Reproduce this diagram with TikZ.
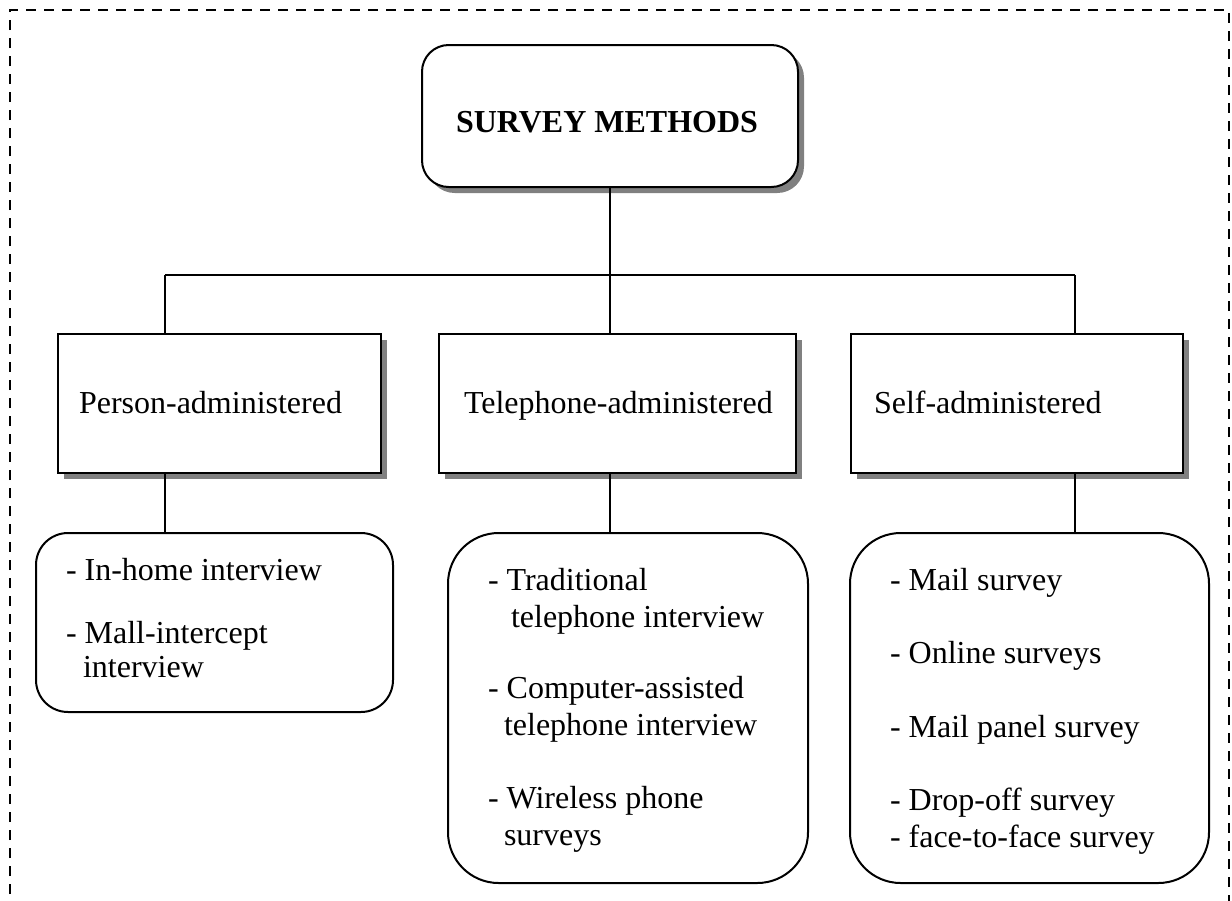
\documentclass[tikz,border=0pt]{standalone}
\usepackage{fontspec}
\setmainfont{Liberation Serif}
\usetikzlibrary{shadows,fit}
\begin{document}
\begin{tikzpicture}[x=0.75pt,y=-0.75pt,
  line width=1.5pt,
  sbox/.style={draw, fill=white, inner sep=0pt, drop shadow={shadow xshift=4.5pt, shadow yshift=-4.5pt, fill=black!50, opacity=1}},
  lbox/.style={draw, fill=white, inner sep=0pt, rounded corners=#1},
  txt/.style={anchor=base west, inner sep=0pt, font=\fontsize{24}{28}\selectfont},
  border/.style={line width=2.2pt, dash pattern=on 7.5pt off 6pt},
  conn/.style={line width=1.6pt}]
\useasboundingbox (0,0) rectangle (1232,900);
\draw[border] (10,930) -- (10,10) -- (1229,10) -- (1229,930);

% top
\node[sbox, rounded corners=20pt, fit={(422,45) (798,187)}] (top) {};
\node[txt, font=\bfseries\fontsize{24}{28}\selectfont] (tt) at (455,132) {SURVEY METHODS};

% second row
\node[sbox, fit={(58,334) (381,473)}] (pa) {};
\node[sbox, fit={(439,334) (796,473)}] (ta) {};
\node[sbox, fit={(851,334) (1183,473)}] (sa) {};
\node[txt] (pat) at (78,413) {Person-administered};
\node[txt] (tat) at (463,413) {Telephone-administered};
\node[txt] (sat) at (873,413) {Self-administered};

% bottom row
\node[lbox=24pt, fit={(36,533) (393,712)}] (pl) {};
\node[lbox=38pt, fit={(448,533) (808,883)}] (tl) {};
\node[lbox=38pt, fit={(850,533) (1209,883)}] (sl) {};

\node[txt] (p1) at (65,580) {- In-home interview};
\node[txt] (p2) at (65,643) {- Mall-intercept};
\node[txt] (p3) at (82,677) {interview};

\node[txt] (t1) at (487,590) {- Traditional};
\node[txt] (t2) at (510,627) {telephone interview};
\node[txt] (t3) at (487,698) {- Computer-assisted};
\node[txt] (t4) at (503,735) {telephone interview};
\node[txt] (t5) at (487,808) {- Wireless phone};
\node[txt] (t6) at (503,845) {surveys};

\node[txt] (s1) at (889,590) {- Mail survey};
\node[txt] (s2) at (889,663) {- Online surveys};
\node[txt] (s3) at (889,737) {- Mail panel survey};
\node[txt] (s4) at (889,810) {- Drop-off survey};
\node[txt] (s5) at (889,847) {- face-to-face survey};

% connectors
\coordinate (hL) at (165,275);
\coordinate (hM) at (top.south |- hL);
\coordinate (hR) at (1075,275);
\draw[conn] (top.south) -- (hM);
\draw[conn] (hL) -- (hR);
\draw[conn] (hL) -- (hL |- pa.north);
\draw[conn] (hM) -- (hM |- ta.north);
\draw[conn] (hR) -- (hR |- sa.north);
\draw[conn] (hL |- pa.south) -- (hL |- pl.north);
\draw[conn] (hM |- ta.south) -- (hM |- tl.north);
\draw[conn] (hR |- sa.south) -- (hR |- sl.north);
\end{tikzpicture}
\end{document}
